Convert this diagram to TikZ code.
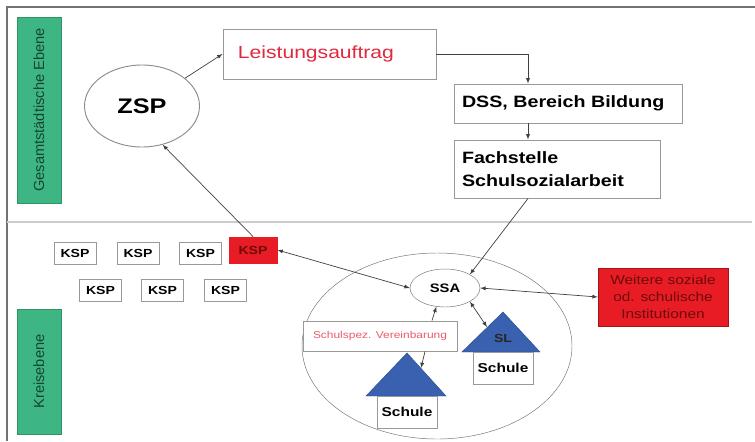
\documentclass[tikz,border=0pt]{standalone}
\usepackage{fontspec}
\setmainfont{Liberation Sans}[FakeStretch=1.2]
\newfontfamily\vertfont{Liberation Sans}
\usetikzlibrary{shapes.geometric}
\definecolor{levelgreen}{RGB}{62,182,132}
\definecolor{levelgreentext}{RGB}{20,70,45}
\definecolor{kspred}{RGB}{232,28,36}
\definecolor{kspredtext}{RGB}{110,10,10}
\definecolor{roofblue}{RGB}{58,96,176}
\definecolor{auftragred}{RGB}{225,40,60}
\definecolor{vereinbred}{RGB}{235,90,110}

\begin{document}
\begin{tikzpicture}[x=0.03cm,y=-0.03cm,>=latex,
        box/.style={draw=black!40,line width=0.8pt,fill=white,inner sep=0pt},
        kspbox/.style={box,minimum width=1.26cm,minimum height=0.66cm,font=\fontsize{10}{12}\selectfont\bfseries},
        levelbox/.style={fill=levelgreen,draw=levelgreen!80!black,rotate=90,minimum height=1.32cm,text=levelgreentext,font=\vertfont\fontsize{12.5}{14}\selectfont},
        schulbox/.style={box,minimum width=1.8cm,minimum height=0.96cm,font=\fontsize{11}{13}\selectfont\bfseries},
        roof/.style={fill=roofblue,draw=roofblue!80!black},
        link/.style={draw=black!75,line width=0.6pt}]
        \useasboundingbox (0,0) rectangle (755,441);
        \draw [black!55,line width=1.2pt] (7,441) -- (7,7) -- (755,7);
        \draw [black!20,line width=2.5pt] (7,222) -- (752,222);

        % obere Ebene
        \node[levelbox,minimum width=5.58cm] (gesamt) at (39,110) {Gesamtstädtische Ebene};
        \node[draw=black!45,line width=0.8pt,ellipse,minimum width=3.45cm,minimum height=2.46cm,font=\fontsize{18}{20}\selectfont\bfseries] (zsp) at (142,106) {ZSP};
        \node[box,minimum height=1.5cm,inner xsep=0.45cm,text width=5.49cm,align=left,text=auftragred,font=\fontsize{15}{17}\selectfont] (auftrag) at (329.5,54) {Leistungsauftrag};
        \node[box,minimum height=1.17cm,inner xsep=0.24cm,text width=6.36cm,align=left,font=\fontsize{14}{16}\selectfont\bfseries] (dss) at (568,103.5) {DSS, Bereich Bildung};
        \node[box,minimum height=1.74cm,inner xsep=0.24cm,text width=5.7cm,align=left,font=\fontsize{14}{20}\selectfont\bfseries] (fach) at (557,169) {Fachstelle\\Schulsozialarbeit};

        % Kreisebene
        \node[levelbox,minimum width=3.75cm] (kreis) at (39,371.5) {Kreisebene};
        \foreach \x/\n in {75/1,138/2,200.5/3} {
            \node[kspbox] (ksp\n) at (\x,253) {KSP};
        }
        \node[kspbox,fill=kspred,draw=kspred,text=kspredtext,minimum width=1.44cm,minimum height=0.78cm] (ksp4) at (253,250) {KSP};
        \foreach \x/\n in {100.5/5,162.5/6,225.5/7} {
            \node[kspbox] (ksp\n) at (\x,290) {KSP};
        }

        \node[draw=black!55,ellipse,minimum width=8.1cm,minimum height=5.58cm] (schulen) at (437,346) {};
        \node[draw=black!55,fill=white,ellipse,inner sep=0pt,minimum width=2.1cm,minimum height=1.14cm,font=\fontsize{10.5}{12}\selectfont\bfseries] (ssa) at (445,288) {SSA};
        \node[box,minimum width=4.62cm,minimum height=0.9cm,text=vereinbred,font=\fontsize{8.5}{10}\selectfont] (vereinb) at (380,336) {Schulspez. Vereinbarung};
        \node[fill=kspred,draw=kspred!70!black,minimum width=3.9cm,minimum height=1.74cm,align=center,text=kspredtext,font=\fontsize{11}{14.5}\selectfont] (weitere) at (663,297) {Weitere soziale\\od. schulische\\Institutionen};

        % Haeuser
        \filldraw[roof] (462,352) -- (503,312) -- (540,352) -- cycle;
        \node[font=\fontsize{10}{12}\selectfont\bfseries,text=black!85] (sl) at (503,338) {SL};
        \node[schulbox] (schule1) at (503,368) {Schule};
        \coordinate (slroof) at (487,327);
        \filldraw[roof] (366,396) -- (407,353) -- (446,396) -- cycle;
        \node[schulbox] (schule2) at (407,412) {Schule};
        \coordinate (roof2) at (421,368);

        % Verbindungen
        \draw[link,->] (zsp) -- (auftrag.west);
        \draw[link,->] (auftrag.east) -| ([xshift=-1.2cm]dss.north);
        \draw[link,->] ([xshift=-1.2cm]dss.south) -- ([xshift=-1.2cm]dss.south |- fach.north);
        \draw[link,->] ([xshift=-0.87cm]fach.south) -- (ssa.north east);
        \draw[link,->] (ksp4.north) -- (zsp.-62);
        \draw[link,<->] (ksp4.east) -- (ssa.west);
        \draw[link,<->] (ssa.east) -- (weitere.west);
        \draw[link,->] ([xshift=1.56cm]vereinb.north) -- (ssa.245);
        \draw[link,->] ([xshift=1.35cm]vereinb.south) -- (roof2);
        \draw[link,<->] (ssa.south east) -- (slroof);
    \end{tikzpicture}
\end{document}
